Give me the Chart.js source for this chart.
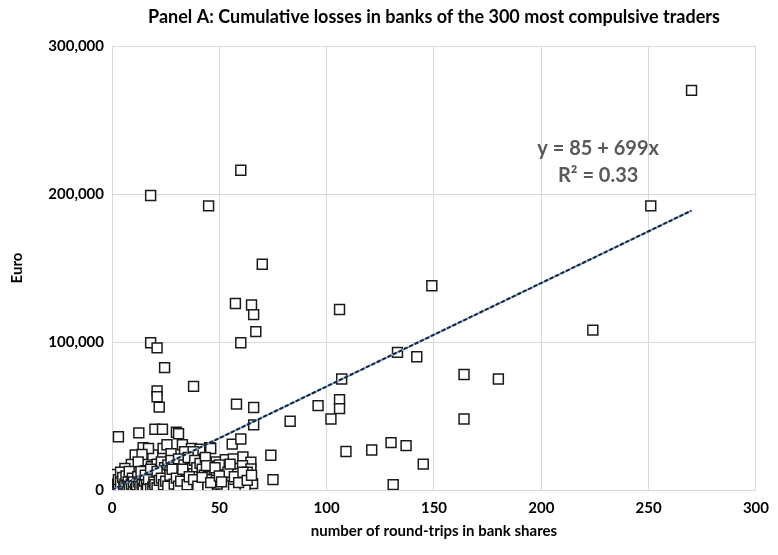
<!DOCTYPE html>
<html>
<head>
<meta charset="utf-8">
<script src="https://cdn.jsdelivr.net/npm/chart.js@4.4.1/dist/chart.umd.min.js"></script>
<style>
  html, body { margin: 0; padding: 0; background: #fff; }
  #wrap { width: 778px; height: 555px; }
</style>
</head>
<body>
<div id="wrap"><canvas id="c"></canvas></div>
<script>
// round-trips (x) and cumulative losses in euro (y), same order
const roundTrips = [
  270, 251, 224, 149, 133, 142, 164, 180, 164, 130,
  137, 145, 131, 107, 106, 106, 96, 102, 83, 109,
  121, 74, 75, 106, 60, 18, 45, 70, 57.5, 65,
  66, 67, 60, 18, 21, 24.5, 38, 21, 21, 22,
  58, 66, 3, 12.5, 20, 23.5, 30, 31, 56, 60,
  66, 14.5, 10.8, 19, 23.8, 25.6, 32.8, 27.5, 37, 41,
  45.5, 36, 48.5, 52.8, 56.5, 61, 64.7, 52.8, 56.8, 60.8,
  64.7, 48.5, 52.8, 55.8, 60.8, 65.5, 47.5, 46.5, 52, 17,
  14, 29.5, 33.8, 37.8, 9, 12.2, 6, 18.4, 23, 31.6,
  26, 15.3, 40, 44, 33.8, 38.4, 43, 46, 50, 58,
  63, 49, 54, 62,
  0.5, 1, 1, 1.5, 2, 2, 2.5, 3, 3, 3.5,
  4, 4, 4.5, 5, 5, 5.5, 6, 6, 6.5, 7,
  7, 7.5, 8, 8, 8.5, 9, 9, 9.5, 10, 10,
  10.5,
  11, 11, 11.5, 12, 12, 12.5, 13, 13, 13.5, 14,
  14, 14.5, 15, 15, 15.5, 16, 16, 16.5, 17, 17,
  17.5, 18, 18, 18.5, 19, 19, 19.5, 20, 20, 20,
  21, 21, 21.5, 22, 22, 22.5, 23, 23, 23.5, 24,
  24.5, 25, 25, 25.5, 26, 26.5, 27, 27, 27.5, 28,
  28.5, 29, 29, 29.5, 30, 30,
  31, 31.5, 32, 32.5, 33, 33.5, 34, 34.5, 35, 35.5,
  36, 36.5, 37, 37.5, 38, 38.5, 39, 39.5, 40, 40.5,
  41, 41.5, 42, 42.5, 43, 43.5, 44, 44.5, 45,
  0.5, 1, 1.5, 2, 2.5, 3, 3, 4, 4, 5,
  5.5, 6, 6.5, 7, 7.5, 8, 8, 9, 9.5, 10,
  10, 11, 11.5, 12, 12.5, 13, 13.5, 14, 14.5, 15,
  15.5, 16, 16.5, 17, 18, 18, 19, 19.5, 20, 21,
  21, 22, 23, 24, 25, 26, 27, 28, 29, 30,
  31, 32, 33, 35, 36, 38, 40, 42, 44, 46,
  48, 50, 51, 55, 57, 59, 61, 63, 65
];
const lossesEuro = [
  270000, 192000, 108000, 138000, 93000, 90000, 78000, 75000, 48000, 32000,
  30000, 17500, 3600, 75000, 61000, 55000, 57000, 48000, 46500, 26000,
  27000, 23500, 7000, 122000, 216000, 199000, 192000, 152500, 126000, 125000,
  118500, 107000, 99500, 99500, 96000, 82700, 70000, 67000, 63000, 56000,
  58000, 55700, 36000, 38600, 41000, 41000, 39000, 38000, 31000, 34500,
  44000, 28500, 23600, 23600, 28000, 30600, 30600, 24500, 28000, 27500,
  28500, 18000, 19000, 20500, 21000, 22400, 18700, 14500, 14500, 16400,
  14200, 11500, 8500, 7200, 8800, 4300, 6700, 1100, 2700, 28000,
  24000, 19500, 25800, 25800, 17300, 19000, 14600, 15700, 14600, 9900,
  9000, 8300, 12300, 12300, 4500, 3400, 4500, 28000, 17000, 11000,
  12000, 4000, 12000, 2000,
  300, 1200, 3000, 500, 2000, 6000, 800, 1500, 4000, 9000,
  600, 2800, 6500, 1200, 3500, 11000, 400, 2200, 5000, 1000,
  7500, 3000, 800, 4500, 2000, 10000, 6000, 1500, 3500, 8000,
  500,
  2500, 5500, 12000, 1000, 7000, 3500, 9500, 600, 5000, 2000,
  11000, 7500, 3500, 800, 13000, 5500, 2000, 9000, 1000, 4000,
  11500, 6500, 2500, 500, 8500, 4000, 13000, 1500, 6000, 10500,
  3000, 17500, 8000, 1000, 12000, 5000, 19000, 2500, 9500, 6500,
  15000, 1500, 11000, 4000, 17000, 7500, 2000, 13000, 20000, 5000,
  10000, 1000, 15500, 7000, 3000, 12000,
  21000, 5500, 14000, 1500, 9000, 17000, 3000, 12000, 6500, 22000,
  1000, 14500, 8500, 4000, 11000, 20000, 2000, 15000, 6000, 9000,
  18000, 1500, 14000, 4500, 10000, 22000, 7000, 2000, 16000,
  4500, 7000, 2500, 10500, 4000, 700, 7000, 5000, 12000, 8500,
  2000, 4000, 9500, 3000, 5500, 2500, 12500, 4000, 8000, 1000,
  5500, 700, 3500, 9000, 5500, 2500, 12500, 4000, 800, 6000,
  10000, 3500, 1200, 7000, 14000, 800, 2000, 5500, 3500, 1500,
  12500, 6500, 8000, 3500, 6000, 2500, 10000, 14000, 4000, 8000,
  2500, 6000, 14000, 3500, 9000, 7000, 2500, 8500, 16500, 5000,
  15000, 9500, 5500, 17500, 9000, 5000, 12000, 6500, 10000
];

// trend line end points (y = 85 + 699x)
const trendX = [0, 270];
const trendY = [85, 188815];
const equationLines = ['y = 85 + 699x', 'R\u00b2 = 0.33'];
const chartTitle = 'Panel A: Cumulative losses in banks of the 300 most compulsive traders';

const xTicks = [0, 50, 100, 150, 200, 250, 300];
const yTicks = [0, 100000, 200000, 300000];

const points = roundTrips.map((x, i) => ({ x: x, y: lossesEuro[i] }));
const trendPts = trendX.map((x, i) => ({ x: x, y: trendY[i] }));

const FONT = 'Lato, "Open Sans", sans-serif';

// title centred over the plot area, like the Excel original
const plotTitle = {
  id: 'plotTitle',
  afterDraw(chart) {
    const { ctx, chartArea } = chart;
    ctx.save();
    ctx.font = 'bold 18px ' + FONT;
    ctx.fillStyle = '#000';
    ctx.textAlign = 'center';
    ctx.textBaseline = 'middle';
    ctx.fillText(chartTitle, (chartArea.left + chartArea.right) / 2, 17);
    ctx.restore();
  }
};

const trendLabel = {
  id: 'trendLabel',
  afterDatasetsDraw(chart) {
    const { ctx, scales } = chart;
    const px = scales.x.getPixelForValue(226.5);
    ctx.save();
    ctx.font = 'bold 20px ' + FONT;
    ctx.fillStyle = '#595959';
    ctx.textAlign = 'center';
    ctx.textBaseline = 'middle';
    ctx.fillText(equationLines[0], px, scales.y.getPixelForValue(230500));
    ctx.fillText(equationLines[1], px, scales.y.getPixelForValue(212300));
    ctx.restore();
  }
};

new Chart(document.getElementById('c'), {
  type: 'scatter',
  data: {
    datasets: [
      {
        label: 'losses',
        data: points,
        pointStyle: 'rect',
        pointRadius: 7,
        pointHoverRadius: 7,
        backgroundColor: '#ffffff',
        borderColor: '#1a1a1a',
        borderWidth: 1.5,
        order: 3
      },
      {
        type: 'line',
        label: 'trend',
        data: trendPts,
        borderColor: '#7fa7d9',
        borderWidth: 2,
        pointRadius: 0,
        fill: false,
        order: 2
      },
      {
        type: 'line',
        label: 'trend dash',
        data: trendPts,
        borderColor: '#1c2433',
        borderWidth: 2,
        borderDash: [4, 2],
        pointRadius: 0,
        fill: false,
        order: 1
      }
    ]
  },
  options: {
    responsive: true,
    maintainAspectRatio: false,
    animation: false,
    layout: { padding: { left: 0, right: 18, top: 46, bottom: 15 } },
    plugins: {
      legend: { display: false },
      tooltip: { enabled: false },
      title: { display: false }
    },
    scales: {
      x: {
        type: 'linear',
        min: 0,
        max: 300,
        afterBuildTicks: (s) => { s.ticks = xTicks.map(v => ({ value: v })); },
        afterFit: (s) => { s.height = 50; },
        ticks: {
          color: '#000',
          font: { family: FONT, size: 15, weight: 'bold' },
          padding: 9
        },
        grid: { color: '#d9d9d9', drawTicks: false },
        border: { color: '#d9d9d9' },
        title: {
          display: true,
          text: 'number of round-trips in bank shares',
          color: '#000',
          font: { family: FONT, size: 15, weight: 'bold' },
          padding: { top: 4, bottom: 0 }
        }
      },
      y: {
        type: 'linear',
        min: 0,
        max: 300000,
        afterBuildTicks: (s) => { s.ticks = yTicks.map(v => ({ value: v })); },
        afterFit: (s) => { s.width = 112; },
        ticks: {
          color: '#000',
          font: { family: FONT, size: 15, weight: 'bold' },
          padding: 8,
          callback: (v) => v.toLocaleString('en-US')
        },
        grid: { color: '#d9d9d9', drawTicks: false },
        border: { color: '#d9d9d9' },
        title: {
          display: true,
          text: 'Euro',
          color: '#000',
          font: { family: FONT, size: 15, weight: 'bold' },
          padding: { top: 8, bottom: 0 }
        }
      }
    }
  },
  plugins: [plotTitle, trendLabel]
});
</script>
</body>
</html>
